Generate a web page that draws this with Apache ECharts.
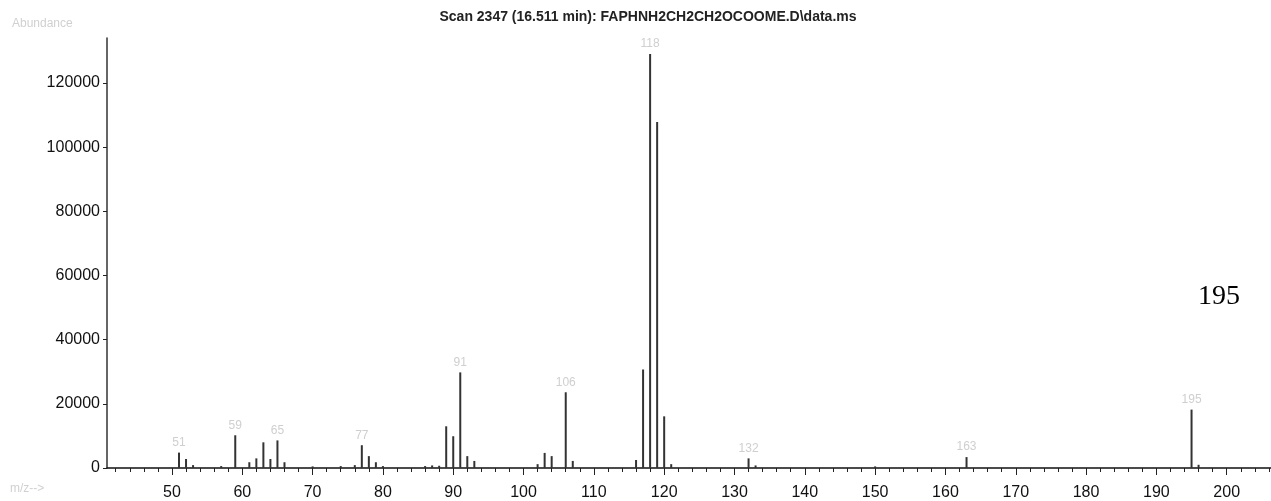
<!DOCTYPE html>
<html>
<head>
<meta charset="utf-8">
<script src="https://cdn.jsdelivr.net/npm/echarts@6/dist/echarts.min.js"></script>
<style>
html,body{margin:0;padding:0;background:#fff;}
#chart{width:1271px;height:501px;}
</style>
</head>
<body>
<div id="chart"></div>
<script>
// m/z values and their abundances
const mzValues = [51, 52, 53, 57, 59, 61, 62, 63, 64, 65, 66, 70, 74, 76, 77, 78, 79, 80, 86, 87, 88, 89, 90, 91, 92, 93, 102, 103, 104, 106, 107, 116, 117, 118, 119, 120, 121, 132, 133, 150, 163, 195, 196];
const abundances = [4800, 2800, 900, 600, 10200, 1800, 3000, 8000, 2800, 8600, 1800, 500, 600, 900, 7100, 3700, 1800, 600, 600, 800, 700, 13000, 9900, 29800, 3700, 2200, 1200, 4700, 3700, 23600, 2200, 2500, 30700, 129000, 107800, 16100, 1200, 3000, 800, 500, 3400, 18200, 1000];
const labeledPeaks = [51, 59, 65, 77, 91, 106, 118, 132, 163, 195];
const xLabelValues = [50, 60, 70, 80, 90, 100, 110, 120, 130, 140, 150, 160, 170, 180, 190, 200];
const xMinorTicks = [42,44,46,48,50,52,54,56,58,60,62,64,66,68,70,72,74,76,78,80,82,84,86,88,90,92,94,96,98,100,102,104,106,108,110,112,114,116,118,120,122,124,126,128,130,132,134,136,138,140,142,144,146,148,150,152,154,156,158,160,162,164,166,168,170,172,174,176,178,180,182,184,186,188,190,192,194,196,198,200,202,204,206];
const yLabelValues = [0, 20000, 40000, 60000, 80000, 100000, 120000];
const titleText = 'Scan 2347 (16.511 min): FAPHNH2CH2CH2OCOOME.D\\data.ms';
const overlayText = '195';

const chart = echarts.init(document.getElementById('chart'), null, {renderer: 'canvas'});
const seriesData = mzValues.map((m, i) => [m, abundances[i]]);
const FONT = 'Liberation Sans, Arial, sans-serif';

const option = {
  animation: false,
  backgroundColor: '#ffffff',
  title: {
    text: titleText,
    left: 643,
    textAlign: 'center',
    top: 5,
    textStyle: {fontSize: 14, fontWeight: 'bold', color: '#222', fontFamily: FONT}
  },
  grid: {left: 107, right: 0, top: 38, bottom: 32, containLabel: false},
  xAxis: [{
    type: 'value',
    min: 40.76,
    max: 206.3,
    splitLine: {show: false},
    axisLine: {show: true, onZero: false, lineStyle: {color: '#111', width: 1.5}},
    axisTick: {show: true, customValues: xMinorTicks, length: 4, lineStyle: {color: '#222', width: 1}},
    axisLabel: {show: true, customValues: xLabelValues, margin: 17, fontSize: 16, color: '#111', fontFamily: FONT}
  }, {
    type: 'value',
    min: 40.76,
    max: 206.3,
    position: 'bottom',
    splitLine: {show: false},
    axisLine: {show: false},
    axisTick: {show: true, customValues: xLabelValues, length: 7, lineStyle: {color: '#222', width: 1}},
    axisLabel: {show: false}
  }],
  yAxis: {
    type: 'value',
    min: 0,
    max: 134000,
    splitLine: {show: false},
    axisLine: {show: true, lineStyle: {color: '#333', width: 1.5}},
    axisTick: {show: true, customValues: yLabelValues, length: 4, lineStyle: {color: '#222'}},
    axisLabel: {show: true, customValues: yLabelValues, margin: 7, fontSize: 16, color: '#111', fontFamily: FONT, formatter: v => String(v)}
  },
  graphic: [
    {type: 'text', left: 1198, top: 283, style: {text: overlayText, font: '28px "Liberation Serif", "Times New Roman", serif', fill: '#000'}},
    {type: 'text', left: 12, top: 18, style: {text: 'Abundance', font: '12px "Liberation Sans", Arial, sans-serif', fill: '#d0d0d0'}},
    {type: 'text', left: 10, top: 483, style: {text: 'm/z-->', font: '12px "Liberation Sans", Arial, sans-serif', fill: '#d0d0d0'}}
  ],
  series: [{
    type: 'bar',
    xAxisIndex: 0,
    data: seriesData,
    barWidth: 2,
    itemStyle: {color: '#333'},
    label: {
      show: true,
      position: 'top',
      distance: 4,
      color: '#cfcfcf',
      fontSize: 12,
      formatter: p => labeledPeaks.includes(p.value[0]) ? String(p.value[0]) : ''
    }
  }]
};
chart.setOption(option);
</script>
</body>
</html>
